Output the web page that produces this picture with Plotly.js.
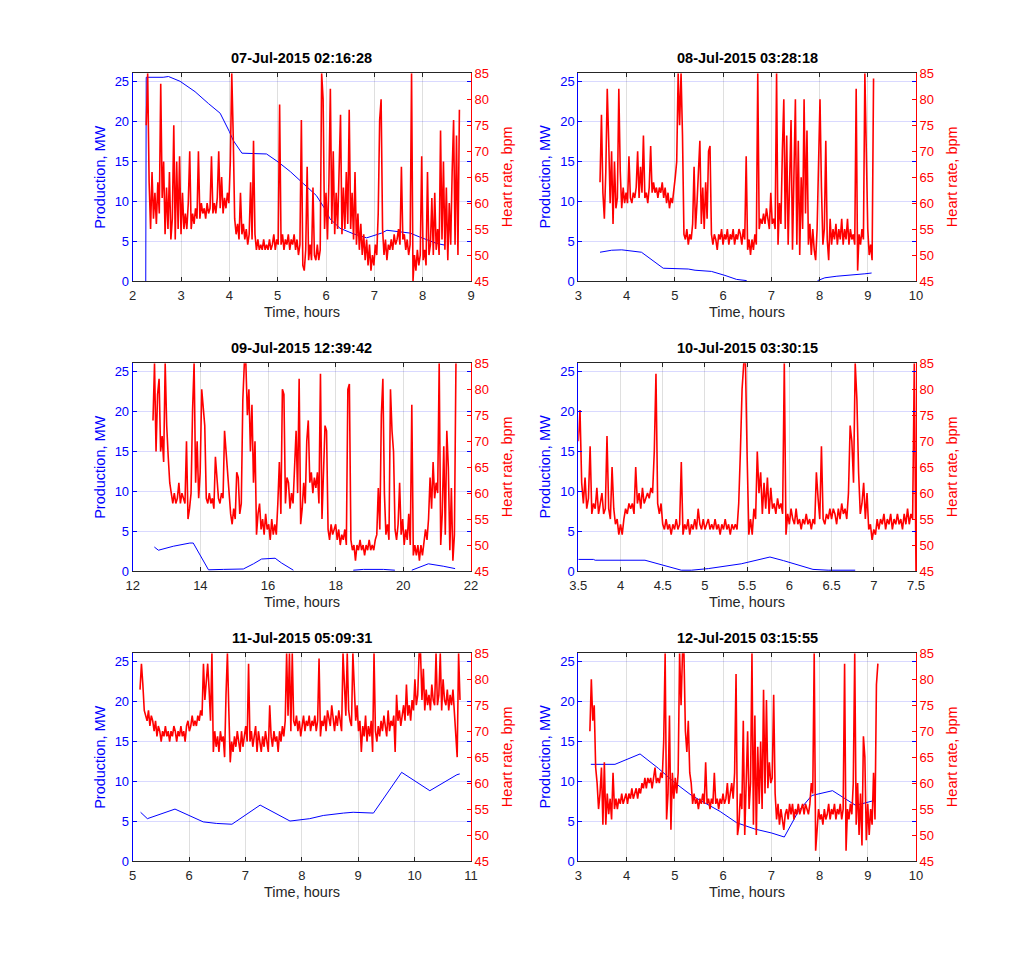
<!DOCTYPE html>
<html><head><meta charset="utf-8">
<script src="https://cdn.plot.ly/plotly-3.0.1.min.js"></script>
<style>html,body{margin:0;padding:0;background:#fff;}#chart{width:1013px;height:968px;}</style>
</head><body><div id="chart"></div>
<script>
// ---------- titles ----------
const panelTitles = ["07-Jul-2015 02:16:28","08-Jul-2015 03:28:18","09-Jul-2015 12:39:42","10-Jul-2015 03:30:15","11-Jul-2015 05:09:31","12-Jul-2015 03:15:55"];
const xLabel = "Time, hours", yLeftLabel = "Production, MW", yRightLabel = "Heart rate, bpm";

// ---------- tick values ----------
const xTicks1 = [2,3,4,5,6,7,8,9];
const xTicks2 = [3,4,5,6,7,8,9,10];
const xTicks3 = [12,14,16,18,20,22];
const xTicks4 = [3.5,4,4.5,5,5.5,6,6.5,7,7.5];
const xTicks5 = [5,6,7,8,9,10,11];
const xTicks6 = [3,4,5,6,7,8,9,10];
const prodTicks = [0,5,10,15,20,25];
const hrTicks = [45,50,55,60,65,70,75,80,85];

// ---------- production (MW) ----------
const prod1T = [2.27,2.28,2.63,2.74,2.98,3.29,3.57,3.81,4.00,4.08,4.26,4.77,5.01,5.26,5.53,5.80,5.98,6.08,6.29,6.57,6.84,7.15,7.26,7.53,7.74,7.94,8.29,8.45];
const prod1V = [0,25.5,25.5,25.6,25.0,23.7,22.2,21.0,18.7,17.6,16.0,15.9,14.9,13.7,12.2,10.7,9.0,7.8,6.6,5.9,5.4,6.0,6.35,6.1,6.0,5.5,4.7,4.5];
const prod2T = [3.45,3.69,3.90,4.17,4.31,4.76,5.28,5.42,5.76,6.04,6.28,6.49,7.20,7.96,8.11,8.36,8.74,8.94,9.08];
const prod2V = [3.6,3.85,3.9,3.7,3.6,1.6,1.5,1.35,1.2,0.7,0.2,0.05,null,0.05,0.4,0.6,0.75,0.9,1.0];
const prod3T = [12.64,12.76,13.20,13.40,13.69,13.79,14.24,14.68,15.27,15.57,15.81,16.21,16.40,16.75,17.60,18.52,18.82,19.41,19.75,20.00,20.25,20.74,21.18,21.48,21.53];
const prod3V = [3.0,2.6,3.1,3.3,3.5,3.5,0.15,0.2,0.25,0.9,1.5,1.6,1.0,0.1,null,0.1,0.2,0.2,0.1,null,0.1,0.9,0.6,0.4,0.3];
const prod4T = [3.50,3.68,3.70,4.29,4.72,4.84,5.04,5.43,5.77,5.93,6.28,6.46,6.78];
const prod4V = [1.45,1.45,1.35,1.35,0.1,0.1,0.3,0.9,1.75,1.3,0.2,0.1,0.1];
const prod5T = [5.14,5.26,5.75,6.25,6.49,6.76,7.26,7.79,8.14,8.38,8.74,8.91,9.27,9.77,10.27,10.75,10.80];
const prod5V = [6.1,5.3,6.5,4.9,4.7,4.6,7.0,5.0,5.3,5.7,6.0,6.1,6.0,11.1,8.8,10.8,10.9];
const prod6T = [3.26,3.76,4.28,4.66,5.00,5.35,5.94,6.28,6.66,7.01,7.27,7.56,7.84,8.27,8.74,8.84,9.15];
const prod6V = [12.1,12.1,13.4,11.6,9.8,8.2,6.2,4.8,4.0,3.5,3.0,6.2,8.2,8.8,7.0,7.1,7.6];

// ---------- heart rate (bpm), regularly sampled: first time (h) and sampling step (h) ----------
const hr1Start = 2.28, hr1Step = 0.03;
const hr1V = [75,85,64,55,66,57,62,56,64,58, 83,61,68,54,63,55,66,53,57,75, 53,68,55,69,54,62,55,58,55,60,
 70,55,58,56,59,57,70,57,60,58, 59,57,60,58,59,69,58,60,58,61, 70,59,65,58,61,59,62,60,68,85,
 73,57,54,56,53,62,54,56,53,55, 52,54,64,53,72,54,51,53,51,52, 51,53,51,52,51,53,51,52,54,51,
 53,52,79,52,54,51,53,52,54,51, 53,52,54,51,53,50,52,76,48,47, 51,67,49,52,49,63,50,49,52,49,
 51,85,80,55,62,53,64,82,56,70, 54,62,55,68,77,54,63,55,66,56, 78,55,62,53,66,52,58,51,56,50,
 54,49,53,48,52,47,50,48,52,50, 58,76,80,55,50,53,49,52,51,53, 51,54,52,53,55,52,67,53,54,51,
 53,50,52,85,45,50,47,51,48,50, 69,49,51,48,66,50,52,61,50,62, 51,55,50,74,53,68,51,63,49,60,
 52,66,76,52,73,50,78];
const hr2Start = 3.45, hr2Step = 0.03;
const hr2V = [64,77,62,57,66,82,72,60,70,56, 68,59,61,82,66,59,63,60,62,60, 69,61,60,62,61,63,70,61,67,62,
 73,61,62,60,63,71,62,64,62,63, 61,63,62,64,61,63,60,62,59,61, 60,62,65,68,85,75,85,73,54,53,
 55,52,54,53,56,67,55,60,65,72, 56,63,55,64,57,70,71,54,52,54, 53,51,54,53,55,52,54,53,55,52,
 54,53,55,52,54,53,55,54,52,55, 53,69,51,53,50,53,51,54,52,85, 55,57,56,58,56,59,57,55,62,56,
 57,55,85,52,60,56,70,80,55,73, 52,62,76,51,64,80,52,72,50,65, 55,80,58,74,52,56,50,55,51,49,
 55,70,80,63,52,55,72,53,49,57, 52,55,53,56,52,55,53,57,52,55, 53,57,52,55,53,54,52,82,47,54,
 52,55,53,85,67,55,50,52,49,84];
const hr3Start = 12.6, hr3Step = 0.045;
const hr3V = [74,85,68,79,82,68,71,66,85,73, 67,62,60,58,60,58,59,62,58,60, 59,58,70,55,57,60,76,85,62,70,
 59,64,80,77,73,59,58,60,58,59, 57,67,63,59,58,60,59,72,68,64, 60,56,54,57,55,64,63,56,58,78,
 85,85,75,80,68,77,62,70,52,56, 58,53,55,52,56,53,54,51,55,52, 54,52,58,66,56,80,79,58,63,62,
 57,60,58,65,72,60,82,54,57,62, 58,70,74,62,64,60,63,61,64,58, 83,55,66,73,72,53,51,54,52,53,
 54,51,53,50,52,51,53,50,80,81, 51,49,50,47,50,49,51,49,50,48, 50,49,51,49,50,49,51,52,61,53,
 75,82,60,52,54,51,80,72,68,53, 51,54,62,52,55,50,53,51,56,50, 77,48,50,48,50,47,50,48,51,53,
 51,55,63,57,66,59,62,60,85,50, 56,69,52,72,65,49,61,47,52,85];
const hr4Start = 3.5, hr4Step = 0.02;
const hr4V = [70,76,62,58,63,57,59,69,56,58, 57,61,56,58,60,56,57,71,57,55, 65,57,54,55,52,54,52,55,57,56,
 58,57,58,56,65,58,60,57,61,58, 59,60,59,61,60,68,83,58,56,58, 54,53,55,53,54,52,54,53,55,53,
 54,66,52,54,53,55,52,54,53,55, 53,57,54,53,55,53,54,55,53,54, 53,55,53,54,52,54,53,55,53,54,
 52,54,53,54,53,58,68,80,85,85, 67,52,55,52,57,55,68,60,64,56, 62,57,63,56,61,57,58,56,59,57,
 58,56,85,52,56,54,57,55,54,57, 54,55,53,55,54,56,54,55,53,55, 54,64,59,55,69,55,54,56,55,57,
 55,57,56,54,57,55,58,56,57,55, 60,73,70,62,85,78,64,56,58,62, 55,60,53,54,51,53,52,55,53,55,
 54,56,53,55,54,56,53,55,54,56, 54,55,53,56,54,57,54,56,55,85, 45];
const hr5Start = 5.13, hr5Step = 0.025;
const hr5V = [78,83,79,74,73,72,74,71,73,72, 70,72,69,71,70,68,70,69,71,69, 70,68,70,69,71,70,68,70,69,71,
 69,70,68,71,72,70,71,73,71,72, 71,73,72,74,73,83,76,80,83,78, 72,85,66,70,67,69,66,70,68,69,
 65,77,85,74,64,68,66,69,67,70, 68,66,70,67,69,71,68,83,68,70, 67,69,71,66,70,68,66,69,67,70,
 68,66,75,69,67,70,68,69,66,70, 68,71,69,72,85,73,85,70,85,72, 71,73,70,72,69,71,73,70,72,71,
 73,70,72,71,73,70,72,84,69,72, 71,73,70,74,72,71,75,72,70,73, 71,74,72,70,85,77,73,85,74,72,
 71,85,78,72,75,70,72,66,71,69, 73,68,71,69,72,66,85,70,68,71, 69,72,70,73,71,69,74,70,72,71,
 73,66,77,72,74,71,73,75,72,79, 73,75,72,76,74,80,75,77,85,85, 76,82,74,78,75,77,74,79,76,75,
 85,75,77,85,74,80,76,75,78,74, 77,75,78,73,68,65,85,76];
const hr6Start = 3.24, hr6Step = 0.03;
const hr6V = [70,80,72,75,63,60,55,58,63,52, 64,52,58,54,57,53,62,55,57,55, 57,56,58,56,57,58,56,58,57,59,
 57,58,59,57,59,58,60,59,61,59, 61,60,61,59,61,63,60,61,60,62, 61,68,85,53,58,73,51,62,57,61,
 58,62,85,75,85,85,70,66,72,62, 60,56,58,56,57,55,57,56,58,56, 64,56,57,55,57,56,62,56,57,55,
 57,56,58,56,57,60,56,58,60,57, 62,81,50,52,58,55,72,50,62,70, 55,60,85,52,73,50,67,56,68,55,
 78,58,76,59,64,60,61,77,58,53, 56,52,55,53,51,54,55,53,56,54, 56,53,55,54,56,54,55,56,54,56,
 55,54,56,60,58,85,47,52,55,53, 54,52,55,53,54,56,53,55,54,56, 53,55,54,56,53,55,83,47,55,53,
 56,54,60,85,52,60,50,58,48,69, 65,49,56,50,55,52,62,53,79,83];

// ---------- assemble ----------
const panels = [
  {pt:prod1T, pv:prod1V, h0:hr1Start, dh:hr1Step, hv:hr1V, xr:[2,9], xt:xTicks1},
  {pt:prod2T, pv:prod2V, h0:hr2Start, dh:hr2Step, hv:hr2V, xr:[3,10], xt:xTicks2},
  {pt:prod3T, pv:prod3V, h0:hr3Start, dh:hr3Step, hv:hr3V, xr:[12,22], xt:xTicks3},
  {pt:prod4T, pv:prod4V, h0:hr4Start, dh:hr4Step, hv:hr4V, xr:[3.5,7.5], xt:xTicks4},
  {pt:prod5T, pv:prod5V, h0:hr5Start, dh:hr5Step, hv:hr5V, xr:[5,11], xt:xTicks5},
  {pt:prod6T, pv:prod6V, h0:hr6Start, dh:hr6Step, hv:hr6V, xr:[3,10], xt:xTicks6}
];

const W = 1013, H = 968;
const FONT = "Liberation Sans, Arial, Helvetica, sans-serif";
const DARK = "#262626", BLUE = "#0000ff", RED = "#ff0000";
const colPx = [[132.7,471],[578.3,916]];
const rowPx = [[73.3,281],[363.3,571],[653.3,861]];
const px = v => v / W, py = v => 1 - v / H;

const data = [];
const layout = {
  width: W, height: H, margin: {l:0, r:0, t:0, b:0},
  paper_bgcolor: "#fff", plot_bgcolor: "#fff",
  showlegend: false, font: {family: FONT, color: DARK},
  annotations: []
};

panels.forEach((p, k) => {
  const row = Math.floor(k / 2), col = k % 2;
  const yl = 2 * k + 1, yr = 2 * k + 2;
  const xName = "x" + (k + 1), ylName = "y" + yl, yrName = "y" + yr;
  const xd = [px(colPx[col][0]), px(colPx[col][1])];
  const yd = [py(rowPx[row][1]), py(rowPx[row][0])];

  data.push({type:"scatter", mode:"lines", x:p.pt, y:p.pv, xaxis:xName, yaxis:ylName,
    line:{color:BLUE, width:1}, connectgaps:false, hoverinfo:"skip"});
  data.push({type:"scatter", mode:"lines", x0:p.h0, dx:p.dh, y:p.hv, xaxis:xName, yaxis:yrName,
    line:{color:RED, width:1.6}, hoverinfo:"skip"});

  layout["xaxis" + (k + 1)] = {
    domain: xd, anchor: ylName, range: p.xr, tickvals: p.xt, ticks: "inside", ticklen: 4,
    tickcolor: DARK, showline: true, linecolor: DARK, linewidth: 1, mirror: "ticks",
    showgrid: true, gridcolor: "rgba(38,38,38,0.15)", zeroline: false, ticklabelstandoff: 2,
    tickfont: {family: FONT, size: 13, color: DARK}
  };
  layout["yaxis" + yl] = {
    domain: yd, anchor: xName, range: [0, 26], tickvals: prodTicks, ticks: "inside", ticklen: 4,
    tickcolor: BLUE, showline: true, linecolor: BLUE, linewidth: 1, mirror: "ticks",
    showgrid: true, gridcolor: "rgba(0,0,255,0.15)", zeroline: false,
    tickfont: {family: FONT, size: 13, color: BLUE}
  };
  layout["yaxis" + yr] = {
    domain: yd, anchor: xName, overlaying: ylName, side: "right", range: [45, 85], tickvals: hrTicks,
    ticks: "inside", ticklen: 4, tickcolor: RED, showline: true, linecolor: RED, linewidth: 1,
    showgrid: false, zeroline: false, tickfont: {family: FONT, size: 13, color: RED}
  };

  const cx = (colPx[col][0] + colPx[col][1]) / 2;
  const cy = (rowPx[row][0] + rowPx[row][1]) / 2;
  layout.annotations.push({text: panelTitles[k], xref:"paper", yref:"paper", x: px(cx), y: py(rowPx[row][0] - 15.5),
    xanchor:"center", yanchor:"middle", showarrow:false, font:{family:FONT, size:14.5, color:"#000", weight:"bold"}});
  layout.annotations.push({text: xLabel, xref:"paper", yref:"paper", x: px(cx), y: py(rowPx[row][1] + 31),
    xanchor:"center", yanchor:"middle", showarrow:false, font:{family:FONT, size:14.5, color:DARK}});
  layout.annotations.push({text: yLeftLabel, xref:"paper", yref:"paper", x: px(colPx[col][0] - 33), y: py(cy),
    xanchor:"center", yanchor:"middle", textangle:-90, showarrow:false, font:{family:FONT, size:14.5, color:BLUE}});
  layout.annotations.push({text: yRightLabel, xref:"paper", yref:"paper", x: px(colPx[col][1] + 36), y: py(cy),
    xanchor:"center", yanchor:"middle", textangle:-90, showarrow:false, font:{family:FONT, size:14.5, color:RED}});
});

Plotly.newPlot("chart", data, layout, {staticPlot: true, displayModeBar: false});
</script>
</body></html>
